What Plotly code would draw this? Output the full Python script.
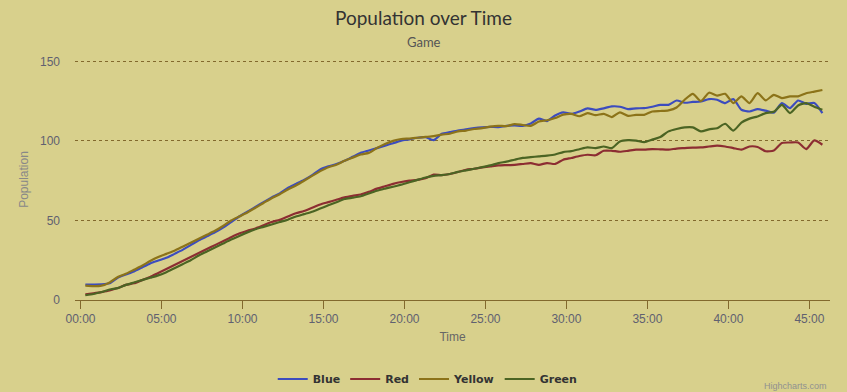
import plotly.graph_objects as go

# ---- data (minutes since start) ----
times = [0.3 + 0.5 * i for i in range(92)]

blue = [9.7, 9.7, 9.8, 10.5, 14, 16, 18, 20.5, 23, 24.8,
        26.5, 29, 31.5, 34.5, 37.5, 40, 42.5, 45.5, 49, 52.5,
        55.5, 58.5, 61.5, 64.5, 67, 70.5, 73, 75.5, 78.5, 82,
        84, 85.5, 87.5, 90, 92.5, 94, 95.5, 97, 98.5, 100.2,
        101, 102, 102.3, 100.5, 104.5, 105.5, 106.5, 107.3, 108, 108.5,
        108.8, 108.7, 109.5, 109.7, 109.5, 111, 114, 112.5, 116, 118,
        117, 118.5, 120.5, 119.5, 120.5, 121.7, 121.5, 120, 120.5, 120.6,
        121.5, 122.7, 122.7, 125.4, 124, 124.5, 124.8, 126.3, 125.9, 123.8,
        126.3, 119.6, 118.5, 120, 119, 117.8, 123.8, 120.6, 125.4, 123.3,
        123.8, 117.5]

red = [3.5, 4.2, 5, 6, 7.5, 9.5, 10.5, 12.5, 14.5, 17,
       19.5, 22, 24.5, 27, 29.5, 32, 34.5, 37, 39.5, 41.8,
       43.5, 45, 47, 49, 50.5, 52.5, 54.5, 56, 58, 60,
       61.5, 63, 64.5, 65.5, 66.3, 68, 70, 71.5, 73, 74.2,
       75, 75.5, 76.5, 78.8, 78.5, 79.2, 80.5, 81.9, 82.5, 83.4,
       84, 84.6, 84.8, 85, 85.5, 86, 85, 86.1, 85.5, 88.2,
       89.3, 90.5, 91.3, 91, 93.8, 93.8, 93.2, 93.8, 94.5, 94.5,
       94.9, 94.7, 94.5, 95.2, 95.5, 95.8, 95.9, 96.5, 97, 96.5,
       95.5, 94.5, 96.5, 96.2, 93.5, 94, 98.7, 99, 99, 94.9,
       100.3, 97.6]

yellow = [9, 8.7, 9, 11, 14.5, 16.5, 19, 21.5, 24.5, 27,
          29, 31, 33.5, 36, 38.5, 41, 43.5, 46.5, 50, 52.5,
          55, 58, 61, 64, 66.5, 69.5, 72, 75, 78, 81,
          83.5, 85, 87.5, 89.5, 91.5, 92.5, 95.5, 98, 100, 101.2,
          101.5, 102, 102.5, 103, 104, 104.5, 106, 106.5, 107.5, 108,
          109, 109.5, 109.3, 110.6, 110, 109.5, 112.2, 113, 114.4, 116.5,
          117, 115.5, 117.5, 116.2, 117, 115, 118, 115.8, 116.4, 116.4,
          118.5, 118.8, 119.2, 121, 125.9, 129.6, 125, 130.3, 128.5, 129.6,
          123.8, 128, 123.8, 130, 125.5, 129, 126.9, 128, 128, 130,
          131, 132]

green = [3, 3.8, 5, 6.6, 7.5, 9.5, 11, 12.5, 14, 15.5,
         17.5, 20, 22.5, 25, 28, 30.5, 33, 35.5, 38, 40.3,
         42.5, 44.5, 46, 47.5, 49, 50.5, 52.5, 54, 55.5, 57.5,
         59.5, 61.5, 63.5, 64.3, 65.2, 67, 68.7, 70, 71.2, 72.5,
         74, 75.5, 77, 78, 78.5, 79.2, 80.5, 81.5, 82.5, 83.5,
         84.6, 86, 87, 88.2, 89.3, 89.8, 90.3, 90.8, 91.5, 93,
         93.6, 94.8, 95.9, 95.5, 96.5, 95.5, 99.7, 100.5, 100.2, 99.2,
         100.8, 102.5, 106, 107.5, 108.5, 108.5, 106, 107.3, 108, 110.8,
         106.5, 111.5, 114, 115.4, 117.5, 118.3, 122.7, 117.5, 122.3, 123.8,
         121.5, 119.6]

series_names = ["Blue", "Red", "Yellow", "Green"]
series_colors = ["#3c4cbe", "#8c2d32", "#8c7319", "#4b6423"]

tick_minutes = [0, 5, 10, 15, 20, 25, 30, 35, 40, 45]
tick_labels = ["00:00", "05:00", "10:00", "15:00", "20:00",
               "25:00", "30:00", "35:00", "40:00", "45:00"]
y_ticks = [0, 50, 100, 150]

BG = "#d8d08c"
BROWN = "#82692d"
W, H = 847, 392
L, R, T, B = 75, 17, 59, 92

fig = go.Figure()
for name, vals, col in zip(series_names, [blue, red, yellow, green], series_colors):
    fig.add_trace(go.Scatter(
        x=times, y=vals, name=name, mode="lines",
        line=dict(color=col, width=2.2, shape="spline", smoothing=0.6),
    ))

fig.update_layout(
    width=W, height=H,
    paper_bgcolor=BG, plot_bgcolor=BG,
    margin=dict(l=L, r=R, t=T, b=B, autoexpand=False),
    title=dict(
        text="Population over Time",
        x=0.5, xref="container", xanchor="center",
        y=1 - 18 / H, yref="container", yanchor="middle",
        font=dict(family="Lato, Open Sans, sans-serif", size=19, color="#333333"),
        automargin=False,
    ),
    showlegend=True,
    legend=dict(
        orientation="h", xref="container", yref="container",
        x=0.505, xanchor="center", y=1 - 379 / H, yanchor="middle",
        font=dict(family="DejaVu Sans, sans-serif", size=11, color="#333333", weight="bold"),
        bgcolor="rgba(0,0,0,0)", itemwidth=30, tracegroupgap=0,
    ),
    font=dict(family="Liberation Sans, Arial, sans-serif"),
)

fig.update_xaxes(
    range=[-0.34, 46.27],
    tickvals=tick_minutes, ticktext=tick_labels,
    showline=True, linecolor=BROWN, linewidth=1,
    ticks="outside", ticklen=8, tickcolor=BROWN, tickwidth=1,
    showgrid=False, zeroline=False, automargin=False,
    tickfont=dict(family="Liberation Sans, Arial, sans-serif", size=12, color="#606070"),
    title=dict(text="Time", standoff=7,
               font=dict(family="Liberation Sans, Arial, sans-serif", size=12, color="#666666")),
    fixedrange=True,
)
fig.update_yaxes(
    range=[0, 151.5], tickvals=y_ticks,
    showgrid=True, gridcolor=BROWN, griddash="dot", gridwidth=1,
    showline=False, zeroline=False, ticks="", automargin=False,
    ticklabelstandoff=14,
    tickfont=dict(family="Liberation Sans, Arial, sans-serif", size=12, color="#606070"),
    title=dict(text="Population", standoff=8,
               font=dict(family="Liberation Sans, Arial, sans-serif", size=12, color="#888888")),
    fixedrange=True,
)

plot_h = H - T - B
fig.add_annotation(
    text="Game", xref="paper", yref="paper",
    x=(W / 2 - L) / (W - L - R), y=1 + (T - 42) / plot_h,
    xanchor="center", yanchor="middle", showarrow=False,
    font=dict(family="Lato, Open Sans, sans-serif", size=13, color="#555555"),
)
fig.add_annotation(
    text="Highcharts.com", xref="paper", yref="paper",
    x=(829 - L) / (W - L - R), y=-(386 - (H - B)) / plot_h,
    xanchor="right", yanchor="middle",
    showarrow=False, font=dict(family="Liberation Sans, Arial, sans-serif", size=9, color="#909090"),
)

fig.write_html(
    "out.html",
    config={"displayModeBar": False},
    post_script="document.body.style.margin='0';document.body.style.overflow='hidden';",
)
